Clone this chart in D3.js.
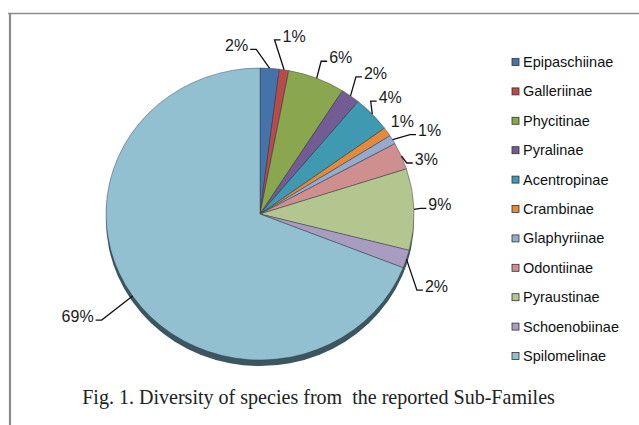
<!DOCTYPE html>
<html>
<head>
<meta charset="utf-8">
<script src="https://cdn.jsdelivr.net/npm/d3@7"></script>
<style>
  html, body { margin: 0; padding: 0; background: #fff; }
  svg { display: block; }
  .cap { white-space: pre; }
</style>
</head>
<body>
<svg id="chart" width="639" height="425"></svg>
<script>
// ---- data ----
const categories = ["Epipaschiinae", "Galleriinae", "Phycitinae", "Pyralinae", "Acentropinae",
  "Crambinae", "Glaphyriinae", "Odontiinae", "Pyraustinae", "Schoenobiinae", "Spilomelinae"];
const values = [2, 1, 6, 2, 4, 1, 1, 3, 9, 2, 69];
const percentLabels = ["2%", "1%", "6%", "2%", "4%", "1%", "1%", "3%", "9%", "2%", "69%"];
const caption = "Fig. 1. Diversity of species from  the reported Sub-Familes";

// ---- styling / layout ----
const colors = ["#4473A9", "#B84A4A", "#8AA74F", "#735C93", "#3F99B0", "#E38A3C",
  "#95AACF", "#CE8F8E", "#B3C68F", "#A99CC1", "#93C0D0"];
// label nudges relative to the slice's edge anchor (layout, not data)
const labelNudge = [[-33, -23], [10, -34], [24, -21], [25, -23], [18, -17], [15, -11],
  [37, -9], [25, 3], [26, -5], [30, 27], [-55, 20]];

const svg = d3.select("#chart");
const cx = 260, cy = 214, rx = 154, ry = 146;

// frame
svg.append("line").attr("x1", 8).attr("x2", 639).attr("y1", 13.5).attr("y2", 13.5)
  .attr("stroke", "#8c8c8c").attr("stroke-width", 1.5);
svg.append("line").attr("x1", 10).attr("x2", 10).attr("y1", 13).attr("y2", 425)
  .attr("stroke", "#8c8c8c").attr("stroke-width", 2.2);

const pie = d3.pie().sort(null).value(d => d)(values);
const arc = d3.arc().innerRadius(0).outerRadius(rx);

// 3D side / shadow
const side = svg.append("g").attr("transform", `translate(${cx},${cy + 6}) scale(1,${ry / rx})`);
side.append("ellipse").attr("cx", 0).attr("cy", 0).attr("rx", rx).attr("ry", rx)
  .attr("fill", "#3b5660");

const g = svg.append("g").attr("transform", `translate(${cx},${cy}) scale(1,${ry / rx})`);
g.selectAll("path.slice").data(pie).enter().append("path")
  .attr("class", "slice")
  .attr("d", arc)
  .attr("fill", (d, i) => colors[i])
  .attr("stroke", "#2c3a40")
  .attr("stroke-opacity", 0.75)
  .attr("stroke-width", 0.6)
  .attr("vector-effect", "non-scaling-stroke");

// labels
const fs = 16;
const lab = svg.append("g").attr("font-family", "Liberation Sans, Arial, sans-serif")
  .attr("font-size", fs).attr("fill", "#1a1a1a");
pie.forEach((d, i) => {
  const a = (d.startAngle + d.endAngle) / 2;
  const ax = cx + rx * Math.sin(a);
  const ay = cy - ry * Math.cos(a);
  const [nx, ny] = labelNudge[i];
  const lx = ax + nx, ly = ay + ny;
  const t = lab.append("text").attr("x", lx).attr("y", ly + fs * 0.36)
    .attr("text-anchor", "middle").text(percentLabels[i]);
  const w = t.node().getComputedTextLength();
  if (Math.hypot(nx, ny) > 20) {
    const right = nx >= 0;
    const edge = right ? lx - w / 2 - 2 : lx + w / 2 + 2;
    const yy = ly + 4;
    const elbow = right ? edge - 6 : edge + 6;
    svg.append("polyline")
      .attr("points", `${ax},${ay} ${elbow},${yy} ${edge},${yy}`)
      .attr("fill", "none").attr("stroke", "#111").attr("stroke-width", 1.3);
  }
});

// legend
const leg = svg.append("g");
categories.forEach((c, i) => {
  const yc = 62 + i * 29.4;
  leg.append("rect").attr("x", 512).attr("y", yc - 3.5).attr("width", 7).attr("height", 7)
    .attr("fill", colors[i]).attr("stroke", "#333").attr("stroke-width", 0.8);
  leg.append("text").attr("x", 523).attr("y", yc + 5)
    .attr("font-family", "Liberation Sans, Arial, sans-serif").attr("font-size", 14.5)
    .attr("fill", "#111").text(c);
});

// caption
const cap = svg.append("text").attr("class", "cap").attr("x", 318.5).attr("y", 404)
  .attr("text-anchor", "middle")
  .attr("font-family", "Liberation Serif, Times New Roman, serif").attr("font-size", 19)
  .attr("fill", "#222").text(caption);
const cw = cap.node().getComputedTextLength();
cap.attr("font-size", 19 * 473 / cw);
</script>
</body>
</html>
